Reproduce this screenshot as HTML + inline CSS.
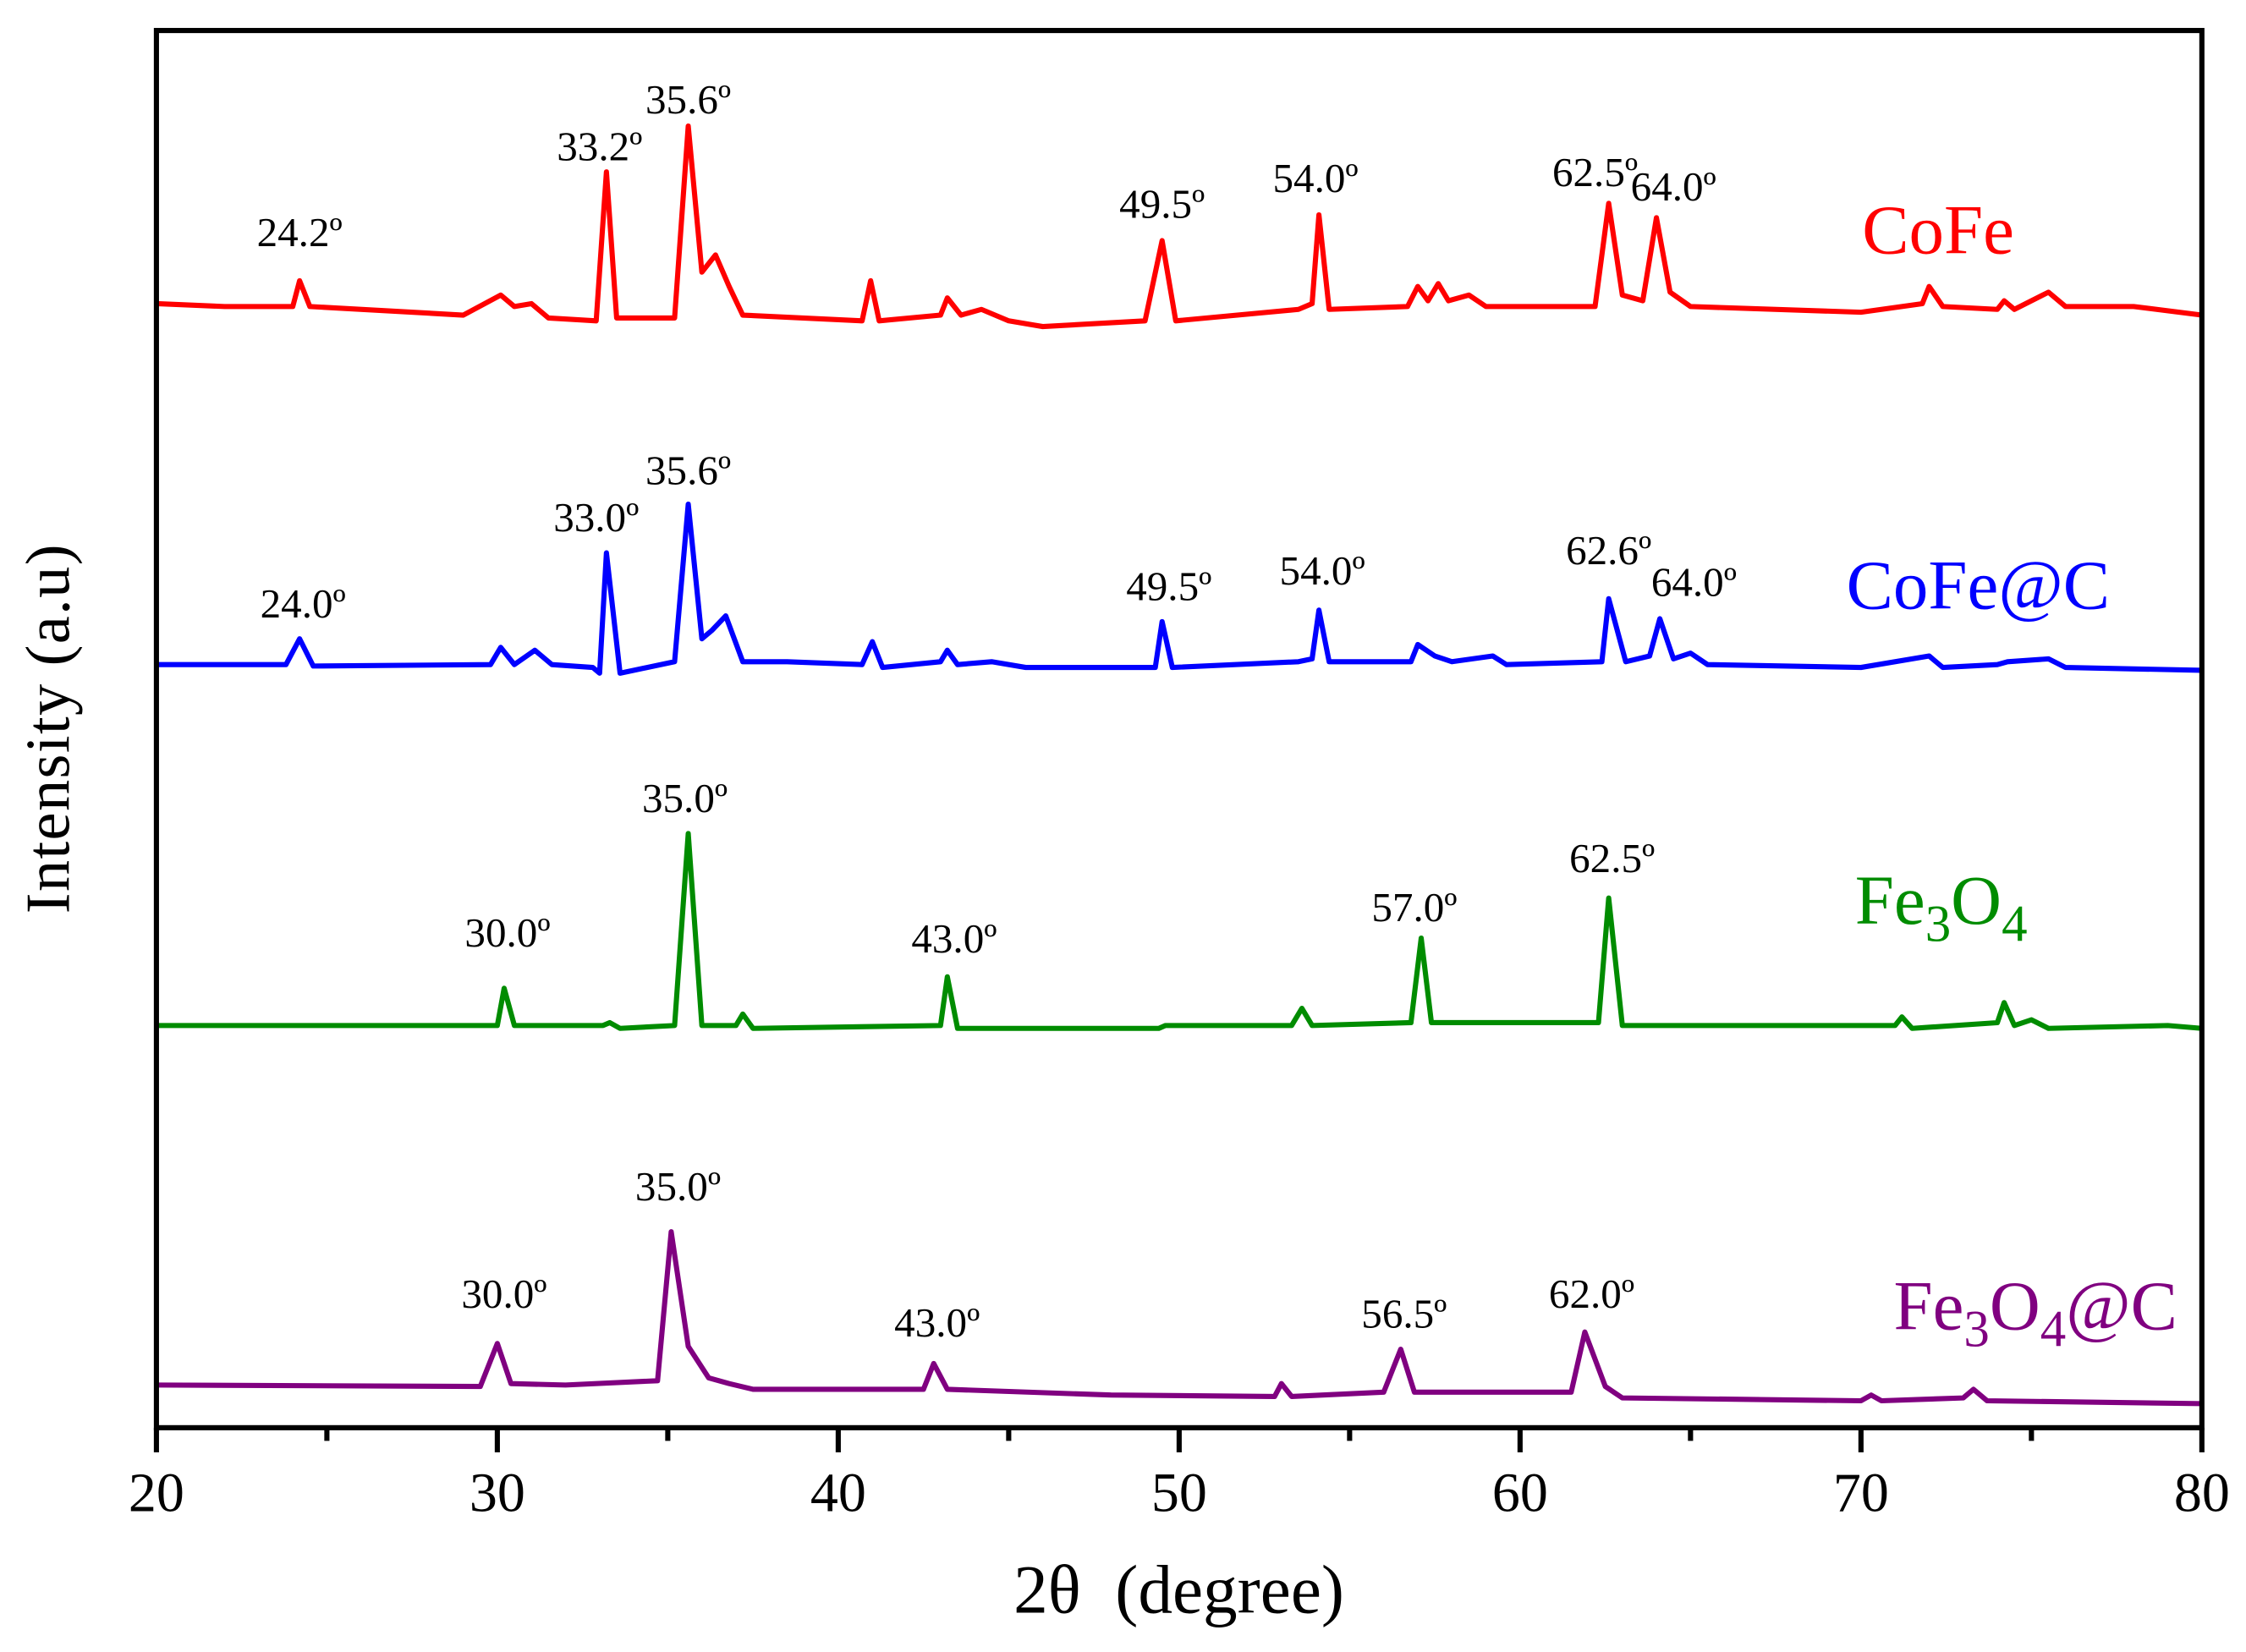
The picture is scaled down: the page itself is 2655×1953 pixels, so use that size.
<!DOCTYPE html>
<html><head><meta charset="utf-8"><style>
html,body{margin:0;padding:0;background:#fff;}
svg{display:block;font-family:"Liberation Serif",serif;}
</style></head><body>
<svg id="chart" width="2655" height="1953" viewBox="0 0 1568 1153.4" xmlns="http://www.w3.org/2000/svg">
<g id="series"></g>
<g id="annots"></g>
<rect x="109.2" y="21.3" width="1428" height="975.5" fill="none" stroke="#000" stroke-width="3.6"/>
<g id="ticks"></g>
<text x="823" y="1126" font-size="48" text-anchor="middle">2θ&#160;&#160;(degree)</text>
<text transform="translate(48,509) rotate(-90)" font-size="44" text-anchor="middle" textLength="258">Intensity (a.u)</text>
<text x="1300" y="177" font-size="49" fill="#ff0000">CoFe</text>
<text x="1289" y="425" font-size="49" fill="#0000ff">CoFe@C</text>
<text x="1295" y="645" font-size="49" fill="#008c00">Fe<tspan dy="12" font-size="36">3</tspan><tspan dy="-12">O</tspan><tspan dy="12" font-size="36">4</tspan></text>
<text x="1322" y="928" font-size="49" fill="#800080">Fe<tspan dy="12" font-size="36">3</tspan><tspan dy="-12">O</tspan><tspan dy="12" font-size="36">4</tspan><tspan dy="-12">@C</tspan></text>
</svg>
<script>
const xTicks = [20,30,40,50,60,70,80];
const minorTicks = [25,35,45,55,65,75];
const cofeX = [20,22,24,24.2,24.5,29,30.1,30.5,31,31.5,32.9,33.2,33.5,35.2,35.6,36,36.4,36.8,37.2,40.7,40.95,41.2,43,43.2,43.6,44.2,45,46,49,49.5,49.9,53.5,53.9,54.1,54.4,56.7,57,57.3,57.6,57.9,58.5,59,62.2,62.6,63,63.6,64,64.4,65,70,71.8,72,72.4,74,74.2,74.5,75.5,76,78,80];
const cofeY = [783,781,781,799,781,775,789,781,783,773,771,875,773,773,907,805,817,795,775,771,799,771,775,787,775,779,771,767,771,827,771,779,783,845,779,781,795,785,797,785,789,781,781,853,789,785,843,791,781,777,783,795,781,779,785,779,791,781,781,775];
const cofecX = [20,23.8,24.2,24.6,29.8,30.1,30.5,31.1,31.6,32.8,33.0,33.2,33.6,35.2,35.6,36.0,36.3,36.7,37.2,38.5,40.7,41,41.3,43,43.2,43.5,44.5,45.5,49.3,49.5,49.8,53.5,53.9,54.1,54.4,56.8,57,57.5,58,59.2,59.6,62.4,62.6,63.1,63.8,64.1,64.5,65,65.5,70,72,72.4,74,74.3,75.5,76,80];
const cofecY = [531,531,549,530,531,543,531,541,531,529,525,609,525,533,643,549,555,565,533,533,531,547,529,533,541,531,533,529,529,561,529,533,535,569,533,533,545,537,533,537,531,533,577,533,537,563,535,539,531,529,537,529,531,533,535,529,527];
const fe3o4X = [20,30,30.2,30.5,33.1,33.3,33.6,35.2,35.6,36,37,37.2,37.5,43,43.2,43.5,49.4,49.6,53.3,53.6,53.9,56.8,57.1,57.4,62.3,62.6,63,64,71,71.2,71.5,74,74.2,74.5,75,75.5,79,80];
const fe3o4Y = [279,279,305,279,279,281,277,279,413,279,279,287,277,279,313,277,277,279,279,291,279,281,340,281,281,368,279,279,279,285,277,281,295,279,283,277,279,277];
const fe3o4cX = [20,29.5,30.0,30.4,32,34.7,35.1,35.6,36.2,36.8,37.5,42.5,42.8,43.2,48,52.8,53.0,53.3,56,56.5,56.9,61.5,61.9,62.5,63,70,70.3,70.6,73,73.3,73.7,80];
const fe3o4cY = [28,27,57,29,28,31,135,55,33,29,25,25,43,25,21,20,29,20,23,53,23,23,65,27,19,17,21,17,19,25,17,15];
const series = [
 {name:'cofe-trace', color:'#ff0000', xs:cofeX, ys:cofeY},
 {name:'cofe-c-trace', color:'#0000ff', xs:cofecX, ys:cofecY},
 {name:'fe3o4-trace', color:'#008c00', xs:fe3o4X, ys:fe3o4Y},
 {name:'fe3o4-c-trace', color:'#800080', xs:fe3o4cX, ys:fe3o4cY}
];
const annotText = ['24.2º','33.2º','35.6º','49.5º','54.0º','62.5º','64.0º','24.0º','33.0º','35.6º','49.5º','54.0º','62.6º','64.0º','30.0º','35.0º','43.0º','57.0º','62.5º','30.0º','35.0º','43.0º','56.5º','62.0º'];
const annotAngle = [24.2,33.0,35.6,49.5,54.0,62.2,64.5,24.3,32.9,35.6,49.7,54.2,62.6,65.1,30.3,35.5,43.4,56.9,62.7,30.2,35.3,42.9,56.6,62.1];
const annotValue = [823,883,916,843,861,865,855,564,624,657,576,587,601,579,334,428,330,352,386,82,157,62,68,82];

const NS='http://www.w3.org/2000/svg';
const X = v => 109.2 + (v-20)*(1537.2-109.2)/60;
const Y = v => 995 - v;
const sg = document.getElementById('series');
series.forEach(s=>{
  const p=document.createElementNS(NS,'polyline');
  p.setAttribute('points', s.xs.map((x,i)=>X(x).toFixed(2)+','+Y(s.ys[i]).toFixed(2)).join(' '));
  p.setAttribute('fill','none'); p.setAttribute('stroke',s.color);
  p.setAttribute('stroke-width','3.6'); p.setAttribute('stroke-linejoin','round');
  
  
  sg.appendChild(p);
});
const ag=document.getElementById('annots');
annotText.forEach((t,i)=>{
  const e=document.createElementNS(NS,'text');
  e.setAttribute('x',X(annotAngle[i])); e.setAttribute('y',Y(annotValue[i]));
  e.setAttribute('font-size','29'); e.setAttribute('text-anchor','middle');
  e.textContent=t;
  
  
  ag.appendChild(e);
});
const tg=document.getElementById('ticks');
xTicks.forEach(v=>{
  const l=document.createElementNS(NS,'line');
  l.setAttribute('x1',X(v));l.setAttribute('x2',X(v));l.setAttribute('y1',996.8);l.setAttribute('y2',1014);
  l.setAttribute('stroke','#000');l.setAttribute('stroke-width','3.6');
  
  
  tg.appendChild(l);
  const t=document.createElementNS(NS,'text');
  t.setAttribute('x',X(v));t.setAttribute('y',1055);t.setAttribute('font-size','39');t.setAttribute('text-anchor','middle');
  t.textContent=v;
  
  
  tg.appendChild(t);
});
minorTicks.forEach(v=>{
  const l=document.createElementNS(NS,'line');
  l.setAttribute('x1',X(v));l.setAttribute('x2',X(v));l.setAttribute('y1',996.8);l.setAttribute('y2',1006);
  l.setAttribute('stroke','#000');l.setAttribute('stroke-width','3.6');
  
  
  tg.appendChild(l);
});
</script>
</body></html>
